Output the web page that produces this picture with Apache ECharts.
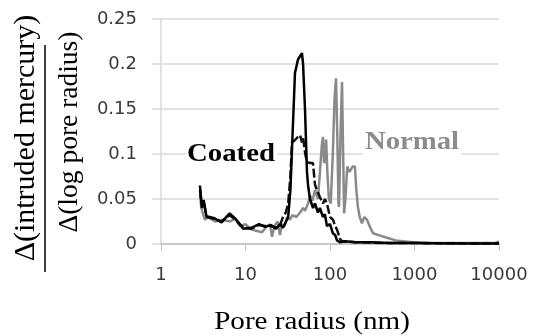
<!DOCTYPE html>
<html>
<head>
<meta charset="utf-8">
<script src="https://cdn.jsdelivr.net/npm/echarts@6/dist/echarts.min.js"></script>
<style>
html,body{margin:0;padding:0;background:#fff;}
#c{width:537px;height:336px;}
</style>
</head>
<body>
<div id="c"></div>
<script>
// Tick labels
const xTickValues = [1, 10, 100, 1000, 10000];
const xTickLabels = ['1', '10', '100', '1000', '10000'];
const yTickLabels = ['0', '0.05', '0.1', '0.15', '0.2', '0.25'];

// Coated (solid black)
const coatedR = [2.89, 3.05, 3.2, 3.45, 4.2, 5.2, 6.5, 7.8, 9.4, 11.7, 14.5, 17, 20, 23, 25.6, 27.8, 30.2, 32, 34, 36, 38.5, 41.8, 46.6, 48, 50.6, 53.4, 55, 58, 62.9, 66.4, 72, 76, 82.6, 87, 92, 100, 108, 115, 121, 131, 150, 200, 300, 500, 1000, 3000, 10000];
const coatedV = [0.065, 0.040, 0.049, 0.031, 0.029, 0.024, 0.034, 0.027, 0.017, 0.018, 0.022, 0.019, 0.021, 0.017, 0.022, 0.018, 0.025, 0.030, 0.060, 0.120, 0.190, 0.205, 0.212, 0.200, 0.150, 0.080, 0.065, 0.050, 0.040, 0.045, 0.035, 0.040, 0.030, 0.033, 0.020, 0.022, 0.012, 0.010, 0.004, 0.002, 0.003, 0.002, 0.002, 0.001, 0.001, 0.0005, 0.0005];

// Coated (dashed black)
const coatedDashR = [2.89, 3.05, 3.2, 3.45, 4.2, 5.2, 6.5, 7.8, 9.4, 11.7, 14.5, 17, 20, 23, 25.6, 27.8, 30, 32, 34, 35.5, 38, 41.8, 44.2, 46.6, 48, 51, 53.4, 58, 62.9, 66.4, 70, 76, 82.6, 87, 92, 100, 108.6, 115, 121, 131, 138, 200, 500, 1000, 10000];
const coatedDashV = [0.060, 0.042, 0.047, 0.030, 0.028, 0.025, 0.032, 0.026, 0.018, 0.017, 0.021, 0.020, 0.020, 0.018, 0.021, 0.030, 0.035, 0.045, 0.075, 0.113, 0.115, 0.119, 0.121, 0.113, 0.118, 0.100, 0.091, 0.090, 0.090, 0.066, 0.060, 0.052, 0.045, 0.050, 0.045, 0.030, 0.027, 0.020, 0.016, 0.006, 0.003, 0.002, 0.001, 0.001, 0.0005];

// Normal (grey)
const normalR = [2.89, 3.0, 3.3, 3.6, 4.35, 5.3, 6.56, 7.5, 8.6, 10, 11.3, 13, 15.7, 18, 19.5, 20.6, 22, 24, 25.6, 27, 29, 31, 33.6, 36, 40, 44.2, 48, 50.6, 55, 58, 62, 66.4, 72, 76, 80, 82.6, 85, 87.3, 90, 93, 97, 102, 108, 113, 117.8, 122, 126, 128, 133, 138.7, 143, 147, 152, 160, 170, 185, 197, 205, 214, 225, 239, 255, 274, 300, 323, 400, 473, 600, 959, 1500, 2600, 5000, 9000, 10000];
const normalV = [0.055, 0.040, 0.027, 0.030, 0.025, 0.027, 0.025, 0.028, 0.020, 0.022, 0.017, 0.015, 0.013, 0.020, 0.022, 0.008, 0.020, 0.025, 0.010, 0.022, 0.020, 0.030, 0.027, 0.032, 0.030, 0.035, 0.040, 0.037, 0.045, 0.054, 0.048, 0.060, 0.050, 0.080, 0.110, 0.119, 0.090, 0.093, 0.116, 0.080, 0.050, 0.045, 0.100, 0.160, 0.184, 0.120, 0.045, 0.041, 0.120, 0.180, 0.100, 0.034, 0.050, 0.086, 0.080, 0.086, 0.086, 0.060, 0.041, 0.030, 0.023, 0.030, 0.027, 0.018, 0.012, 0.009, 0.007, 0.004, 0.002, 0.0015, 0.001, 0.001, 0.001, 0.003];

const zip = (a, b) => a.map((v, i) => [v, b[i]]);

const chart = echarts.init(document.getElementById('c'), null, {renderer: 'canvas'});
const serif = '"Liberation Serif", "DejaVu Serif", serif';
chart.setOption({
  animation: false,
  backgroundColor: '#ffffff',
  grid: {left: 161, right: 38, top: 19, bottom: 92, containLabel: false},
  xAxis: {
    type: 'log', logBase: 10, min: 1, max: 10000,
    axisLine: {show: true, lineStyle: {color: '#bfbfbf', width: 1.5}},
    axisTick: {show: true, length: 7, lineStyle: {color: '#bfbfbf', width: 1}},
    splitLine: {show: false},
    minorTick: {show: false},
    axisLabel: {
      margin: 22, color: '#3a3a3a', fontFamily: '"DejaVu Sans", sans-serif', fontSize: 18,
      formatter: v => { const i = xTickValues.findIndex(t => Math.abs(t - v) / t < 1e-6); return i >= 0 ? xTickLabels[i] : ''; }
    }
  },
  yAxis: {
    type: 'value', min: 0, max: 0.25, interval: 0.05,
    axisLine: {show: true, lineStyle: {color: '#d9d9d9', width: 1.5}},
    axisTick: {show: true, length: 9, lineStyle: {color: '#d9d9d9', width: 1.5}},
    splitLine: {show: true, lineStyle: {color: '#d9d9d9', width: 1.5}},
    axisLabel: {
      margin: 24, color: '#3a3a3a', fontFamily: '"DejaVu Sans", sans-serif', fontSize: 18,
      formatter: v => yTickLabels[Math.round(v / 0.05)]
    }
  },
  series: [
    {type: 'line', name: 'Normal', data: zip(normalR, normalV), showSymbol: false, symbol: 'none',
     lineStyle: {color: '#8a8a8a', width: 2.5}, z: 2},
    {type: 'line', name: 'Coated dashed', data: zip(coatedDashR, coatedDashV), showSymbol: false, symbol: 'none',
     lineStyle: {color: '#111111', width: 2.5, type: [9, 3]}, z: 3},
    {type: 'line', name: 'Coated', data: zip(coatedR, coatedV), showSymbol: false, symbol: 'none',
     lineStyle: {color: '#000000', width: 2.5}, z: 4}
  ],
  graphic: [
    {type: 'text', x: 231, y: 155, scaleX: 1.15, z: 1, style: {text: 'Coated', font: 'bold 25px ' + serif, fill: '#000', align: 'center', verticalAlign: 'middle', backgroundColor: '#fff', padding: [0, 2]}},
    {type: 'text', x: 412, y: 143, scaleX: 1.15, z: 1, style: {text: 'Normal', font: 'bold 25px ' + serif, fill: '#8c8c8c', align: 'center', verticalAlign: 'middle', backgroundColor: '#fff', padding: [0, 2]}},
    {type: 'text', x: 312, y: 322, scaleX: 1.12, style: {text: 'Pore radius (nm)', font: '26px ' + serif, fill: '#000', align: 'center', verticalAlign: 'middle'}},
    {type: 'text', x: 26, y: 138, rotation: Math.PI / 2, style: {text: 'Δ(intruded mercury)', font: '30px ' + serif, fill: '#000', align: 'center', verticalAlign: 'middle'}},
    {type: 'text', x: 70, y: 132, rotation: Math.PI / 2, style: {text: 'Δ(log pore radius)', font: '27.5px ' + serif, fill: '#000', align: 'center', verticalAlign: 'middle'}},
    {type: 'line', shape: {x1: 45, y1: 45, x2: 45, y2: 272}, style: {stroke: '#000', lineWidth: 1.5}}
  ]
});
</script>
</body>
</html>
